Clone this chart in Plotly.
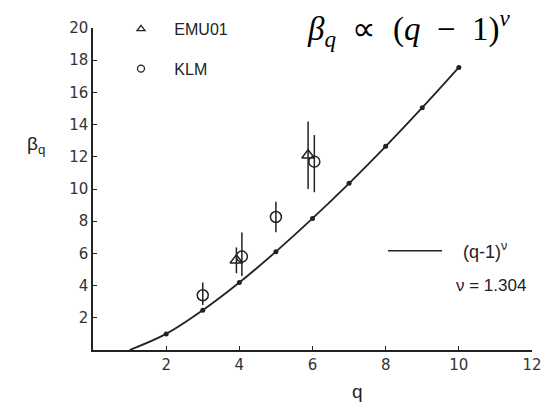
import plotly.graph_objects as go

# Fit curve beta_q ~ (q-1)^nu, values read at integer q
fit_q = [1, 2, 3, 4, 5, 6, 7, 8, 9, 10]
fit_beta = [0.0, 1.0, 2.47, 4.19, 6.11, 8.17, 10.35, 12.65, 15.05, 17.55]

# EMU01 (triangles)
emu_q = [3.92, 5.88]
emu_beta = [5.57, 12.1]
emu_err_up = [0.8, 2.1]
emu_err_dn = [0.8, 2.1]

# KLM (circles)
klm_q = [3.0, 4.07, 5.0, 6.05]
klm_beta = [3.4, 5.8, 8.26, 11.7]
klm_err_up = [0.8, 1.5, 0.95, 1.65]
klm_err_dn = [0.6, 1.2, 0.95, 1.9]

x_ticks = [2, 4, 6, 8, 10, 12]
y_ticks = [2, 4, 6, 8, 10, 12, 14, 16, 18, 20]

ink = "#222222"
NB = "\u00a0"

fig = go.Figure()

fig.add_trace(go.Scatter(
    x=fit_q, y=fit_beta, mode="lines", line=dict(color=ink, width=1.8, shape="spline"),
    showlegend=False, cliponaxis=True,
))
fig.add_trace(go.Scatter(
    x=fit_q[1:], y=fit_beta[1:], mode="markers",
    marker=dict(color=ink, size=5), showlegend=False,
))
fig.add_trace(go.Scatter(
    x=emu_q, y=emu_beta, mode="markers", name="EMU01", showlegend=False,
    marker=dict(symbol="triangle-up-open", size=11, color=ink, line=dict(width=1.5)),
    error_y=dict(type="data", symmetric=False, array=emu_err_up, arrayminus=emu_err_dn,
                 width=0, thickness=1.5, color=ink),
))
fig.add_trace(go.Scatter(
    x=klm_q, y=klm_beta, mode="markers", name="KLM", showlegend=False,
    marker=dict(symbol="circle-open", size=11, color=ink, line=dict(width=1.5)),
    error_y=dict(type="data", symmetric=False, array=klm_err_up, arrayminus=klm_err_dn,
                 width=0, thickness=1.5, color=ink),
))
# legend entries (small symbols as in the reference)
fig.add_trace(go.Scatter(
    x=[None], y=[None], mode="markers", name=NB * 3 + "EMU01",
    marker=dict(symbol="triangle-up-open", size=7, color=ink, line=dict(width=1.3)),
    legendgroup="a",
))
fig.add_trace(go.Scatter(
    x=[None], y=[None], mode="markers", name=NB * 3 + "KLM",
    marker=dict(symbol="circle-open", size=7, color=ink, line=dict(width=1.3)),
    legendgroup="b",
))

# right-side legend for the fit line
fig.add_shape(type="line", xref="paper", yref="paper",
              x0=(388 - 93) / 439, x1=(442 - 93) / 439,
              y0=(350 - 247) / 334, y1=(350 - 247) / 334,
              line=dict(color=ink, width=1.5))

fig.add_annotation(xref="paper", yref="paper", x=(461 - 93) / 439, y=(350 - 247) / 334,
                   text="(q-1)<sup>ν</sup>", showarrow=False, xanchor="left", yanchor="middle",
                   font=dict(family="Liberation Sans", size=18, color=ink))
fig.add_annotation(xref="paper", yref="paper", x=(454 - 93) / 439, y=(350 - 283) / 334,
                   text="ν = 1.304", showarrow=False, xanchor="left", yanchor="middle",
                   font=dict(family="Liberation Sans", size=17, color=ink))

# formula title
fig.add_annotation(xref="paper", yref="paper", x=(305 - 93) / 439, y=(350 - 16) / 334,
                   text="<i>β</i><sub><i>q</i></sub>" + NB * 2 + "∝" + NB * 2 + "(<i>q</i>" + NB * 2
                        + "−" + NB * 2 + "1)<sup><i>ν</i></sup>",
                   showarrow=False, xanchor="left", yanchor="middle",
                   font=dict(family="Liberation Serif", size=33, color="black"))

# axis titles
fig.add_annotation(xref="paper", yref="paper", x=(36 - 93) / 439, y=(350 - 137) / 334,
                   text="β<sub>q</sub>", showarrow=False, xanchor="center", yanchor="middle",
                   font=dict(family="Liberation Sans", size=19, color=ink))
fig.add_annotation(xref="paper", yref="paper", x=(357 - 93) / 439, y=(350 - 393) / 334,
                   text="q", showarrow=False, xanchor="center", yanchor="middle",
                   font=dict(family="Liberation Sans", size=19, color=ink))

axis_common = dict(showgrid=False, zeroline=False, showline=True, linecolor=ink, linewidth=1.5,
                   ticks="inside", ticklen=4, tickwidth=1.2, tickcolor=ink,
                   tickfont=dict(family="DejaVu Sans", size=15, color="#333333"))

fig.update_xaxes(range=[0, 12], tickvals=x_ticks, ticktext=[str(v) for v in x_ticks], **axis_common)
fig.update_yaxes(range=[0, 20], tickvals=y_ticks, ticktext=[str(v) for v in y_ticks], **axis_common)

fig.update_layout(
    width=554, height=407,
    margin=dict(l=93, r=22, t=16, b=57),
    plot_bgcolor="white", paper_bgcolor="white",
    legend=dict(x=(121 - 93) / 439, y=1.05, xanchor="left", yanchor="top",
                font=dict(family="Liberation Sans", size=16, color=ink),
                bgcolor="rgba(0,0,0,0)",
                tracegroupgap=16, traceorder="grouped"),
)

fig.write_html("out.html")
